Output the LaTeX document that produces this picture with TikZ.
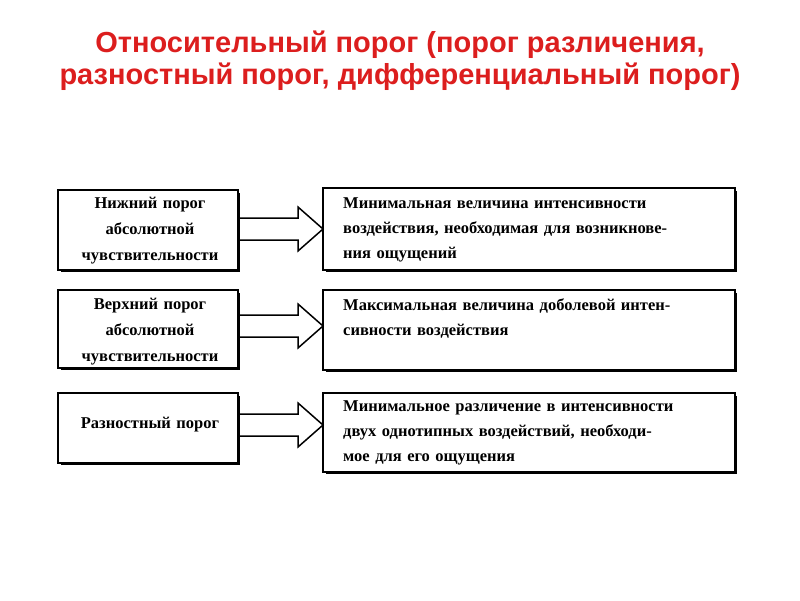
\documentclass[tikz,border=0pt]{standalone}
\usepackage{fontspec}
\setmainfont{Liberation Serif}
\newfontfamily\titlefont{Liberation Sans}
\definecolor{tred}{RGB}{220,30,30}
\newcommand{\jl}[1]{\makebox[385pt][s]{#1}}
\begin{document}
\begin{tikzpicture}[x=1pt,y=-1pt,
  box/.style={draw,line width=1.2pt,inner sep=0pt},
  ltext/.style={align=center,font=\bfseries\fontsize{16.5}{26}\selectfont,text width=180pt},
  rtext/.style={align=left,font=\bfseries\fontsize{16.5}{25}\selectfont,text width=385pt,inner sep=0pt},
  harrow/.style={draw,line width=1.5pt,fill=white}]
\useasboundingbox (0,0) rectangle (800,600);
\node[font=\titlefont\bfseries\fontsize{29}{32}\selectfont,text=tred,align=center] (title) at (400,61)
  {Относительный порог (порог различения,\\ разностный порог, дифференциальный порог)};
\foreach \n/\ya/\yb/\yc/\yd/\am in {1/190/270/188/270/229, 2/290/368/290/370/326, 3/393/463/393/472/425}{
  \draw[box] (58,\ya) rectangle (238,\yb);
  \draw[line width=3pt] (238,\ya+3) -- (238,\yb) -- (61,\yb);
  \draw[box] (323,\yc) rectangle (735,\yd);
  \draw[line width=3pt] (735,\yc+3) -- (735,\yd) -- (326,\yd);
  \draw[harrow] (240,\am-11) -- (298,\am-11) -- (298,\am-22) -- (323,\am) -- (298,\am+22) -- (298,\am+11) -- (240,\am+11);
}
\node[ltext] (l1) at (150,231) {Нижний порог\\ абсолютной\\ чувствительности};
\node[ltext] (l2) at (150,332) {Верхний порог\\ абсолютной\\ чувствительности};
\node[ltext] (l3) at (150,425) {Разностный порог};
\node[rtext,anchor=north west] (r1) at (343,197) {\jl{Минимальная величина интенсивности}\\ \jl{воздействия, необходимая для возникнове-}\\ ния ощущений};
\node[rtext,anchor=north west] (r2) at (343,298) {\jl{Максимальная величина доболевой интен-}\\ сивности воздействия};
\node[rtext,anchor=north west] (r3) at (343,400) {\jl{Минимальное различение в интенсивности}\\ \jl{двух однотипных воздействий, необходи-}\\ мое для его ощущения};
\end{tikzpicture}
\end{document}
